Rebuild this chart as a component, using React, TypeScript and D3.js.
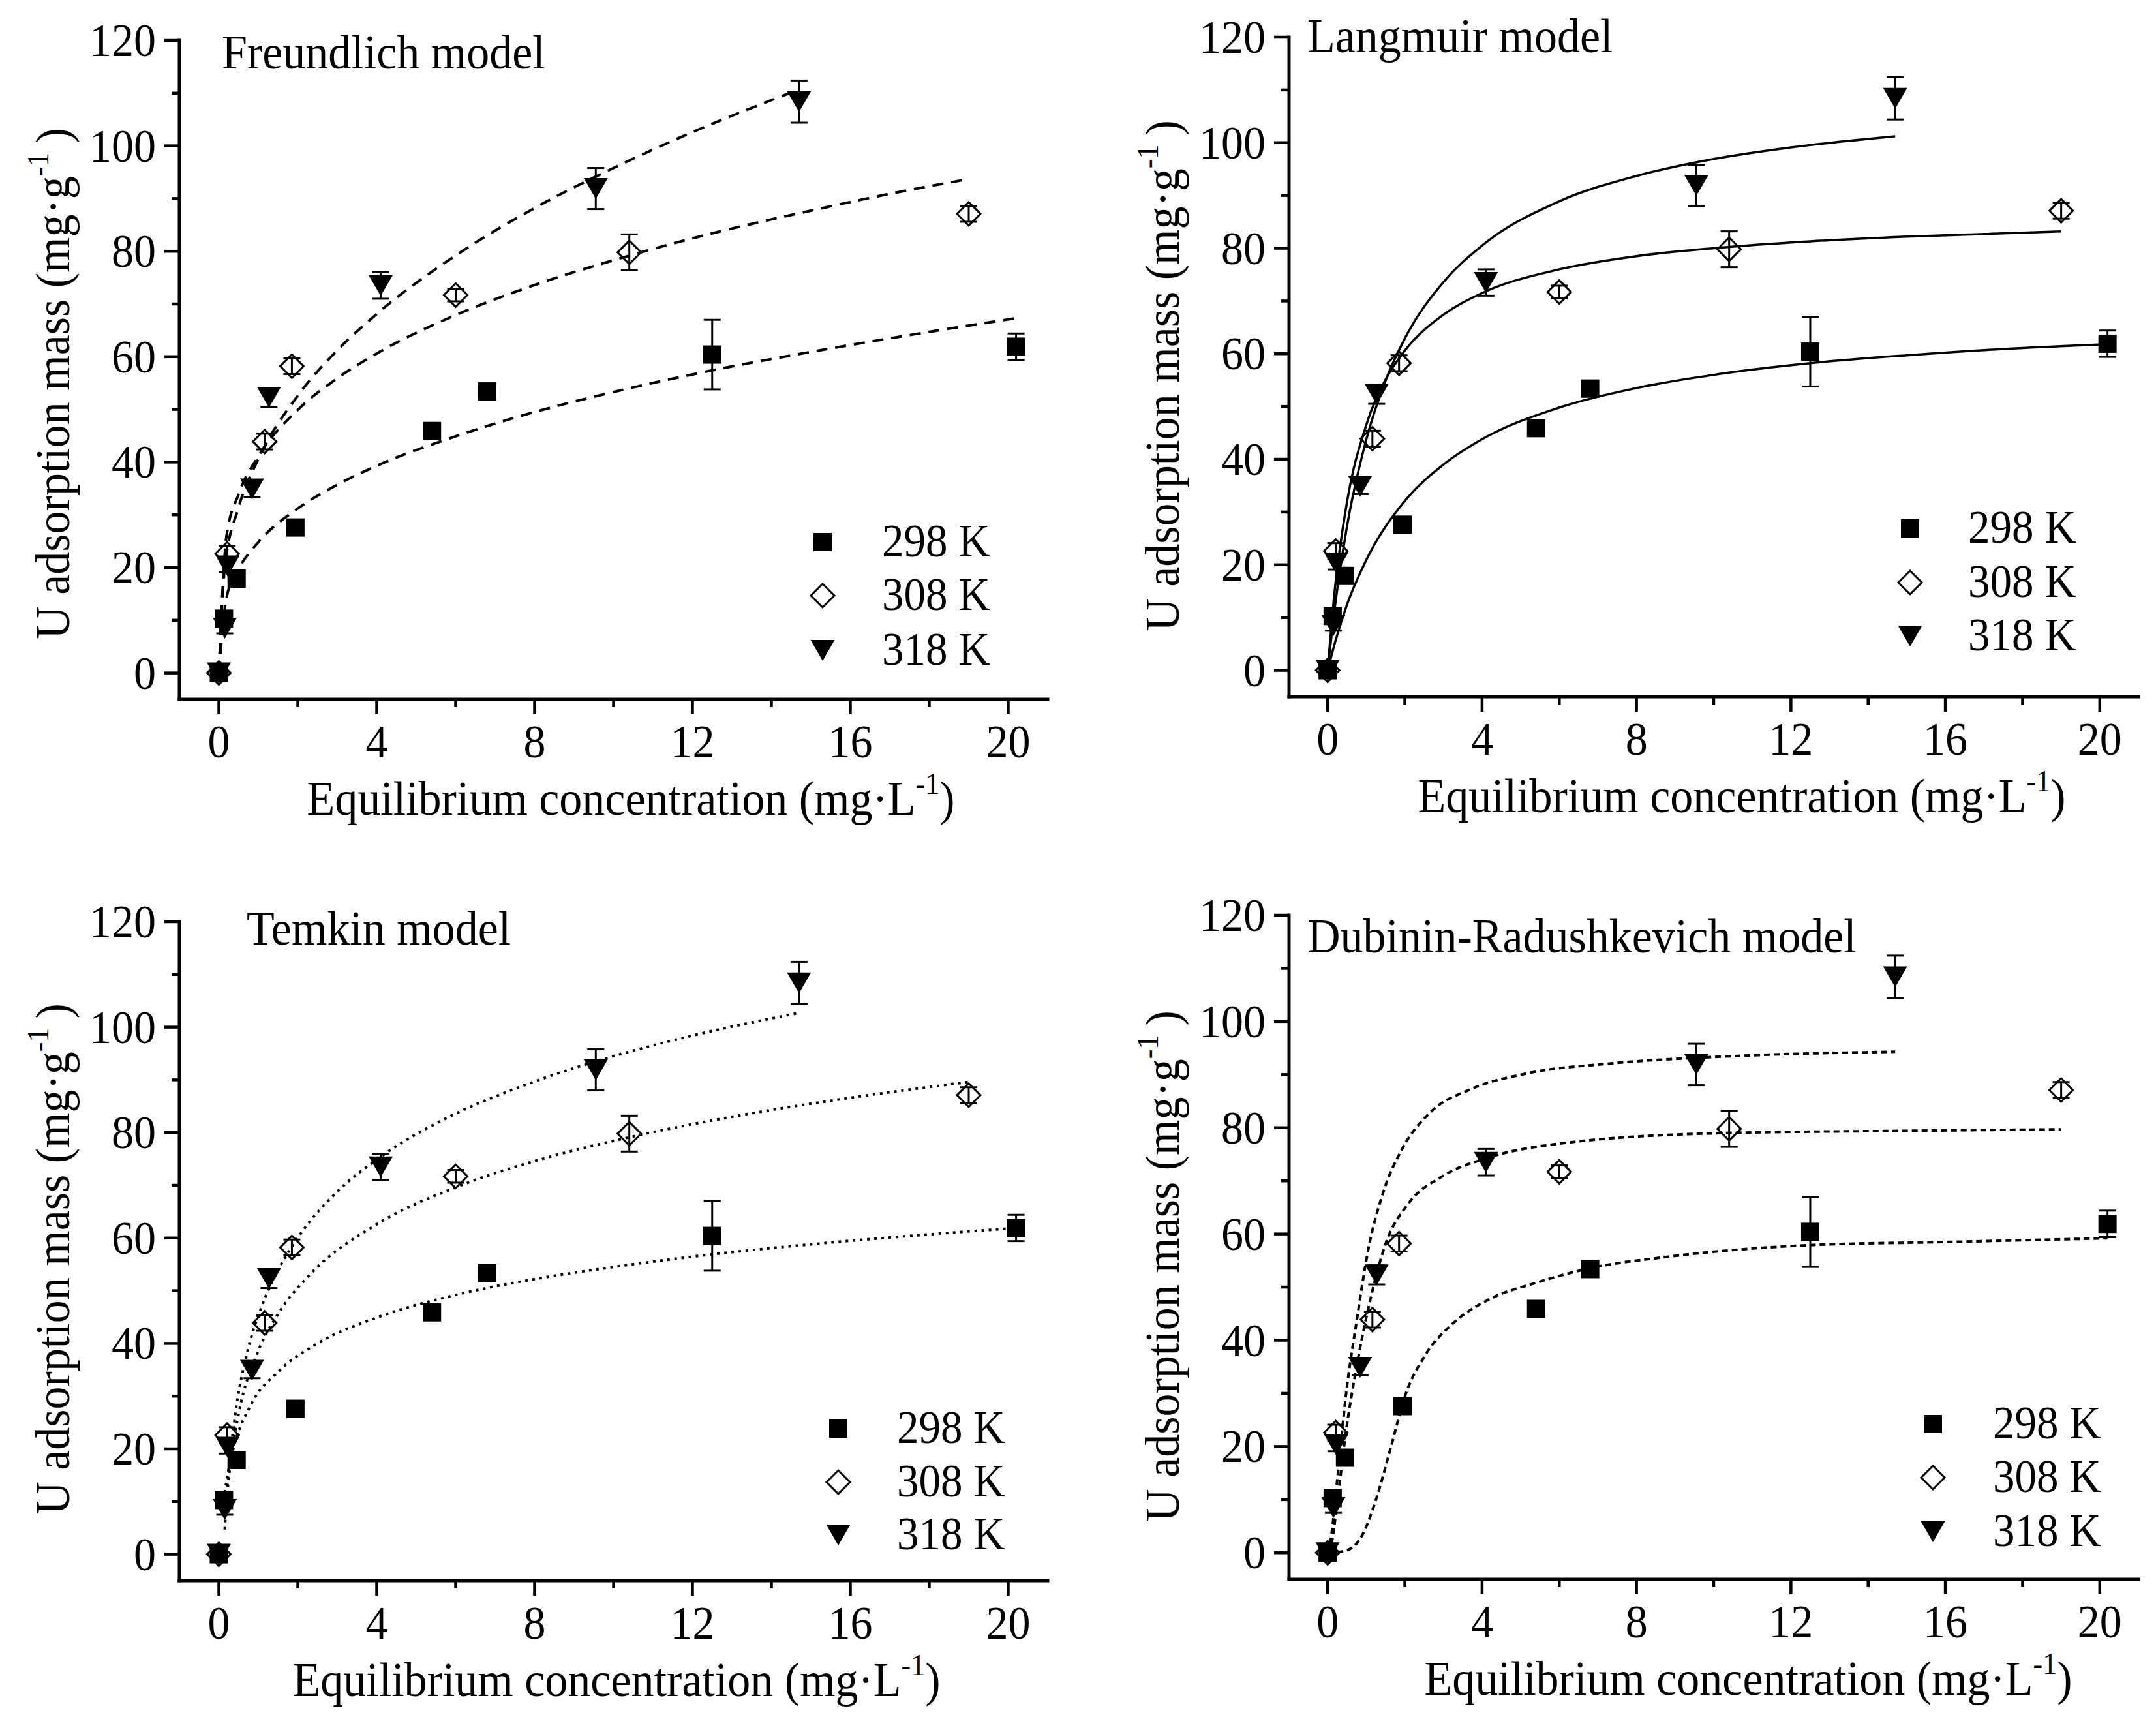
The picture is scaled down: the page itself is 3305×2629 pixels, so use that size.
import React from 'react';
import * as d3 from 'd3';

type Pt = [number, number];

// measured isotherm data (same points in all four panels)
const temps = ['298 K', '308 K', '318 K'];

const conc298 = [0, 0.13, 0.45, 1.94, 5.4, 6.8, 12.5, 20.2];
const q298 = [0, 10.3, 17.9, 27.6, 45.9, 53.4, 60.4, 61.9];
const err298 = [0, 0.8, 1, 0.6, 0.8, 1.5, 6.6, 2.5];

const conc308 = [0, 0.21, 1.16, 1.85, 6.0, 10.4, 19.0];
const q308 = [0, 22.6, 43.9, 58.2, 71.7, 79.8, 87.1];
const err308 = [0, 1.5, 1.5, 1.5, 1.2, 3.4, 1.5];

const conc318 = [0, 0.15, 0.22, 0.84, 1.27, 4.1, 9.55, 14.7];
const q318 = [0, 8.5, 20.3, 34.9, 52.3, 73.5, 91.9, 108.4];
const err318 = [0, 1, 1.2, 1.5, 1.8, 2.5, 3.9, 4];

// fitted curves
const freundlich298: Pt[] = [[0, 0], [0.2, 14.5], [0.5, 19.7], [1, 24.8], [2, 31.2], [3, 35.7], [4, 39.3], [6, 44.9], [8, 49.5], [10, 53.3], [12.5, 57.4], [15, 60.9], [17.5, 64.1], [20.2, 67.3]];
const freundlich308: Pt[] = [[0, 0], [0.19, 25.8], [0.5, 33.9], [1, 41.1], [2, 49.9], [3, 55.9], [4, 60.6], [6, 67.9], [8, 73.6], [10, 78.3], [12.5, 83.4], [15, 87.7], [17, 90.9], [19, 93.7]];
const freundlich318: Pt[] = [[0, 0], [0.15, 20], [0.5, 31.4], [1, 40.6], [2, 52.6], [3, 61.2], [4, 68.1], [6, 79.2], [8, 88.2], [10, 95.8], [12, 102.6], [14.7, 110.7]];

const langmuir298: Pt[] = [[0, 0], [0.2, 5.5], [0.5, 12.4], [1, 20.9], [2, 32.1], [3, 39], [4, 43.8], [6, 49.8], [8, 53.5], [10, 56], [12.5, 58.2], [15, 59.7], [17.5, 60.9], [20.2, 61.8]];
const langmuir308: Pt[] = [[0, 0], [0.19, 15.6], [0.5, 31.8], [1, 46.5], [1.5, 55.1], [2, 60.6], [3, 67.4], [4, 71.5], [6, 76], [8, 78.5], [10, 80], [12.5, 81.3], [15, 82.2], [19, 83.2]];
const langmuir318: Pt[] = [[0, 0], [0.15, 9.8], [0.5, 27.2], [1, 43.7], [1.5, 54.9], [2, 62.9], [3, 73.6], [4, 80.5], [6, 88.9], [8, 93.7], [10, 96.9], [12, 99.1], [14.7, 101.2]];

const temkin298: Pt[] = [[0.1, 9], [0.2, 14.2], [0.35, 19.5], [0.8, 28.2], [1.5, 34.6], [2.5, 40], [4, 44.9], [6, 49.2], [8, 52.2], [10, 54.5], [12.5, 56.9], [15, 58.8], [17.5, 60.4], [20.2, 61.9]];
const temkin308: Pt[] = [[0.19, 10], [0.3, 17.7], [0.5, 26.6], [1, 38.6], [1.5, 45.6], [2.3, 53], [4, 62.6], [6, 69.6], [8, 74.6], [10.4, 79.1], [13, 83], [16, 86.6], [19, 89.6]];
const temkin318: Pt[] = [[0.15, 4.7], [0.2, 10.9], [0.42, 26.7], [0.7, 37.7], [1.1, 47.3], [1.5, 53.9], [2.1, 61.1], [3, 68.8], [4.1, 75.4], [6, 83.6], [7.5, 88.3], [9.5, 93.4], [12, 98.4], [14.7, 102.7]];

const dr298: Pt[] = [[0, 0], [0.47, 0.4], [0.91, 3.5], [1.27, 10.4], [1.64, 19.9], [2, 29.4], [2.52, 37.1], [3.25, 43.2], [4.13, 47.5], [5.44, 50.9], [6.76, 53.5], [8.8, 55.7], [12.47, 57.9], [16.1, 58.5], [20.2, 59.2]];
const dr308: Pt[] = [[0, 0], [0.1, 1.7], [0.25, 9.5], [0.47, 22.5], [0.76, 35.4], [1.13, 48.4], [1.49, 57.9], [2.08, 65.6], [2.96, 70.8], [4.13, 74.3], [5.88, 76.9], [10.27, 79], [14.66, 79.4], [19, 79.7]];
const dr318: Pt[] = [[0, 0], [0.1, 3.5], [0.25, 13.8], [0.47, 29.4], [0.76, 44], [1.05, 57], [1.42, 67.4], [1.93, 76], [2.66, 82.9], [3.69, 87.2], [5.15, 90.2], [7.34, 92.1], [10.27, 93.4], [14.7, 94.3]];

const xMajor = [0, 4, 8, 12, 16, 20];
const xMinor = [2, 6, 10, 14, 18];
const yMajor = [0, 20, 40, 60, 80, 100, 120];
const yMinor = [10, 30, 50, 70, 90, 110];

const FONT = '"Liberation Serif", "Times New Roman", serif';
const STRETCH = 1.07; // the original lettering is a little taller than plain Times

const series = [
  { conc: conc298, q: q298, err: err298, kind: 'square' },
  { conc: conc308, q: q308, err: err308, kind: 'diamond' },
  { conc: conc318, q: q318, err: err318, kind: 'triangle' },
];

interface PanelCfg {
  title: string;
  left: number;
  right: number;
  top: number;
  bottom: number;
  titleX: number;
  titleY: number;
  markerX: number;
  textX: number;
  rows: number[];
  xLabelX: number;
  yLabelY: number;
  curves: Pt[][];
  dash: string;
}

const panels: PanelCfg[] = [
  {
    title: 'Freundlich model', left: 275, right: 1606, top: 62, bottom: 1072,
    titleX: 340, titleY: 105, markerX: 1261, textX: 1352, rows: [831, 913, 997],
    xLabelX: 967, yLabelY: 588,
    curves: [freundlich298, freundlich308, freundlich318], dash: '17 12',
  },
  {
    title: 'Langmuir model', left: 1976, right: 3278, top: 57, bottom: 1068,
    titleX: 2004, titleY: 80, markerX: 2928, textX: 3017, rows: [810, 893, 975],
    xLabelX: 2670, yLabelY: 576,
    curves: [langmuir298, langmuir308, langmuir318], dash: 'none',
  },
  {
    title: 'Temkin model', left: 275, right: 1606, top: 1413, bottom: 2423,
    titleX: 378, titleY: 1448, markerX: 1285, textX: 1375, rows: [2190, 2272, 2353],
    xLabelX: 945, yLabelY: 1930,
    curves: [temkin298, temkin308, temkin318], dash: '4 7',
  },
  {
    title: 'Dubinin-Radushkevich model', left: 1976, right: 3278, top: 1403, bottom: 2421,
    titleX: 2004, titleY: 1460, markerX: 2963, textX: 3055, rows: [2183, 2265, 2348],
    xLabelX: 2680, yLabelY: 1941,
    curves: [dr298, dr308, dr318], dash: '9 6',
  },
];

function T({
  x, y, size, anchor = 'start', rotate = 0, children,
}: {
  x: number; y: number; size: number; anchor?: string; rotate?: number; children: React.ReactNode;
}) {
  return (
    <text
      transform={`translate(${x},${y}) rotate(${rotate}) scale(1,${STRETCH})`}
      textAnchor={anchor}
      fontSize={size}
      fontFamily={FONT}
      fill="#000"
    >
      {children}
    </text>
  );
}

function Marker({ kind, x, y }: { kind: string; x: number; y: number }) {
  if (kind === 'square') {
    return <rect x={x - 14} y={y - 14} width={28} height={28} fill="#000" />;
  }
  if (kind === 'diamond') {
    const r = 18;
    return (
      <path
        d={`M${x},${y - r}L${x + r},${y}L${x},${y + r}L${x - r},${y}Z`}
        fill="none"
        stroke="#000"
        strokeWidth={3}
      />
    );
  }
  return <path d={`M${x - 18.5},${y - 16}L${x + 18.5},${y - 16}L${x},${y + 16}Z`} fill="#000" />;
}

function Panel({ cfg }: { cfg: PanelCfg }) {
  const xs = d3.scaleLinear().domain([-1, 21]).range([cfg.left, cfg.right]);
  const ys = d3.scaleLinear().domain([-5, 120]).range([cfg.bottom, cfg.top]);
  const line = d3
    .line<Pt>()
    .x((d) => xs(d[0]))
    .y((d) => ys(d[1]))
    .curve(d3.curveMonotoneX);

  const ax = cfg.left;
  const ay = cfg.bottom;

  return (
    <g>
      {/* axes */}
      <line x1={ax} y1={ay} x2={ax} y2={ys(120)} stroke="#000" strokeWidth={5} strokeLinecap="square" />
      <line x1={ax} y1={ay} x2={xs(21)} y2={ay} stroke="#000" strokeWidth={5} strokeLinecap="square" />
      {yMajor.map((v) => (
        <g key={`ym${v}`}>
          <line x1={ax - 23} x2={ax} y1={ys(v)} y2={ys(v)} stroke="#000" strokeWidth={4.5} />
          <T x={ax - 36} y={ys(v) + 24} size={68} anchor="end">
            {v}
          </T>
        </g>
      ))}
      {yMinor.map((v) => (
        <line key={`yn${v}`} x1={ax - 12} x2={ax} y1={ys(v)} y2={ys(v)} stroke="#000" strokeWidth={4.5} />
      ))}
      {xMajor.map((v) => (
        <g key={`xm${v}`}>
          <line x1={xs(v)} x2={xs(v)} y1={ay} y2={ay + 23} stroke="#000" strokeWidth={4.5} />
          <T x={xs(v)} y={ay + 89} size={68} anchor="middle">
            {v}
          </T>
        </g>
      ))}
      {xMinor.map((v) => (
        <line key={`xn${v}`} x1={xs(v)} x2={xs(v)} y1={ay} y2={ay + 12} stroke="#000" strokeWidth={4.5} />
      ))}

      {/* axis titles */}
      <T x={cfg.xLabelX} y={ay + 177} size={70} anchor="middle">
        Equilibrium concentration (mg·L
        <tspan fontSize={44} dy={-30}>-1</tspan>
        <tspan dy={30}>)</tspan>
      </T>
      <T x={ax - 169} y={cfg.yLabelY} size={70} anchor="middle" rotate={-90}>
        U adsorption mass (mg·g
        <tspan fontSize={44} dy={-30}>-1</tspan>
        <tspan dy={30}>{'\u2009)'}</tspan>
      </T>

      <T x={cfg.titleX} y={cfg.titleY} size={70}>
        {cfg.title}
      </T>

      {/* fitted curves */}
      {cfg.curves.map((c, i) => (
        <path
          key={`c${i}`}
          d={line(c) || ''}
          fill="none"
          stroke="#000"
          strokeWidth={cfg.dash === 'none' ? 3.5 : 4}
          strokeDasharray={cfg.dash === 'none' ? undefined : cfg.dash}
        />
      ))}

      {/* error bars */}
      {series.map((s, si) =>
        s.conc.map((c, i) =>
          s.err[i] > 0 ? (
            <g key={`e${si}-${i}`} stroke="#000" strokeWidth={3}>
              <line x1={xs(c)} x2={xs(c)} y1={ys(s.q[i] - s.err[i])} y2={ys(s.q[i] + s.err[i])} />
              <line x1={xs(c) - 13} x2={xs(c) + 13} y1={ys(s.q[i] + s.err[i])} y2={ys(s.q[i] + s.err[i])} />
              <line x1={xs(c) - 13} x2={xs(c) + 13} y1={ys(s.q[i] - s.err[i])} y2={ys(s.q[i] - s.err[i])} />
            </g>
          ) : null
        )
      )}

      {/* markers */}
      {series.map((s, si) =>
        s.conc.map((c, i) => <Marker key={`m${si}-${i}`} kind={s.kind} x={xs(c)} y={ys(s.q[i])} />)
      )}

      {/* legend */}
      {temps.map((t, i) => (
        <g key={t}>
          <Marker kind={series[i].kind} x={cfg.markerX} y={cfg.rows[i]} />
          <T x={cfg.textX} y={cfg.rows[i] + 22} size={67}>
            {t}
          </T>
        </g>
      ))}
    </g>
  );
}

export default function App() {
  return (
    <svg
      width={3305}
      height={2629}
      viewBox="0 0 3305 2629"
      style={{ position: 'absolute', left: 0, top: 0, background: '#fff' }}
    >
      <rect width={3305} height={2629} fill="#fff" />
      {panels.map((p) => (
        <Panel key={p.title} cfg={p} />
      ))}
    </svg>
  );
}
